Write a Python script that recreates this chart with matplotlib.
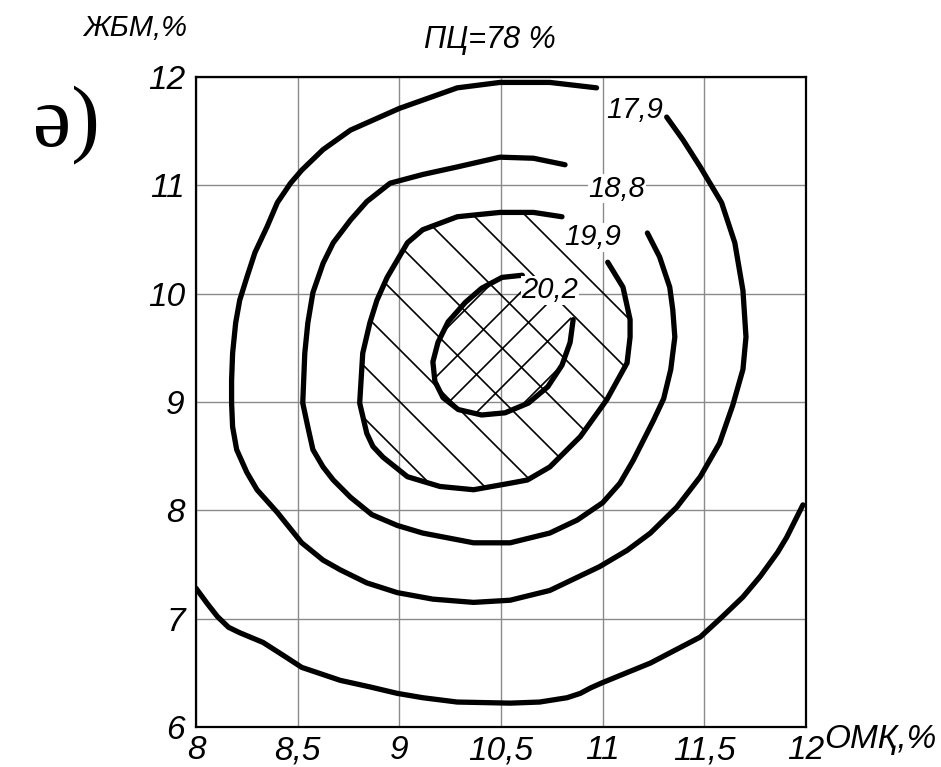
import numpy as np
import matplotlib
matplotlib.use("Agg")
import matplotlib.pyplot as plt
from matplotlib.patches import Polygon
from matplotlib.transforms import Affine2D

plt.rcParams['font.family'] = ['Liberation Sans', 'DejaVu Sans']

# x positions are grid steps (0..6), labelled with the OMK values below
x_labels = ['8', '8,5', '9', '10,5', '11', '11,5', '12']
y_ticks = [6, 7, 8, 9, 10, 11, 12]

# isolines, traced point by point
c179_x = [3.94, 3.48, 2.99, 2.57, 2.00, 1.52, 1.25, 1.04, 0.93, 0.80, 0.70, 0.58,
          0.50, 0.43, 0.39, 0.36, 0.35, 0.35, 0.36, 0.40, 0.50, 0.60, 0.80, 1.04,
          1.25, 1.42, 1.68, 1.98, 2.33, 2.73, 3.09, 3.48, 3.97, 4.24, 4.47, 4.73,
          4.96, 5.15, 5.28, 5.38, 5.41, 5.38, 5.30, 5.17, 4.96, 4.79, 4.63]
c179_y = [11.90, 11.95, 11.95, 11.90, 11.71, 11.51, 11.33, 11.14, 11.02, 10.84, 10.62, 10.38,
          10.15, 9.94, 9.73, 9.45, 9.20, 8.99, 8.77, 8.56, 8.35, 8.19, 7.98, 7.70,
          7.54, 7.45, 7.33, 7.24, 7.18, 7.15, 7.17, 7.26, 7.48, 7.63, 7.79, 8.03,
          8.31, 8.62, 8.97, 9.30, 9.60, 10.03, 10.47, 10.84, 11.17, 11.42, 11.63]

c188_x = [3.63, 3.32, 2.99, 2.57, 2.23, 1.91, 1.68, 1.52, 1.35, 1.25, 1.15, 1.10,
          1.07, 1.05, 1.10, 1.15, 1.25, 1.35, 1.52, 1.73, 1.98, 2.23, 2.73, 3.09,
          3.48, 3.75, 4.00, 4.17, 4.30, 4.50, 4.60, 4.67, 4.71, 4.69, 4.66, 4.56,
          4.44]
c188_y = [11.19, 11.25, 11.26, 11.17, 11.10, 11.02, 10.85, 10.68, 10.47, 10.28, 10.01, 9.73,
          9.45, 8.99, 8.77, 8.56, 8.40, 8.28, 8.12, 7.96, 7.86, 7.79, 7.70, 7.70,
          7.79, 7.91, 8.07, 8.25, 8.46, 8.83, 9.03, 9.30, 9.60, 9.85, 10.06, 10.34,
          10.56]

c199_x = [3.60, 3.32, 2.99, 2.57, 2.23, 2.08, 1.98, 1.88, 1.78, 1.71, 1.64, 1.61,
          1.68, 1.74, 1.84, 2.08, 2.40, 2.73, 3.09, 3.26, 3.48, 3.78, 4.04, 4.24,
          4.27, 4.27, 4.20, 4.05]
c199_y = [10.71, 10.75, 10.75, 10.71, 10.59, 10.47, 10.31, 10.15, 9.94, 9.73, 9.45, 8.99,
          8.71, 8.59, 8.49, 8.31, 8.22, 8.19, 8.25, 8.28, 8.40, 8.68, 9.02, 9.36,
          9.60, 9.76, 10.06, 10.29]

c202_x = [3.21, 3.01, 2.81, 2.65, 2.48, 2.38, 2.33, 2.35, 2.43, 2.58, 2.81, 3.04,
          3.27, 3.46, 3.60, 3.68, 3.71]
c202_y = [10.17, 10.15, 10.05, 9.92, 9.74, 9.55, 9.37, 9.19, 9.04, 8.93, 8.88, 8.90,
          8.99, 9.14, 9.34, 9.55, 9.76]

low_x = [0.00, 0.11, 0.21, 0.32, 0.43, 0.66, 0.86, 1.04, 1.42, 1.71, 1.98, 2.23,
         2.57, 3.09, 3.38, 3.65, 3.78, 3.88, 4.00, 4.47, 4.96, 5.18, 5.38, 5.55,
         5.72, 5.81, 5.97]
low_y = [7.28, 7.14, 7.02, 6.92, 6.87, 6.78, 6.66, 6.55, 6.43, 6.37, 6.31, 6.27,
         6.23, 6.22, 6.23, 6.27, 6.31, 6.36, 6.41, 6.59, 6.83, 7.02, 7.20, 7.39,
         7.61, 7.75, 8.05]

# contour values and where they are written
lab_text = ['17,9', '18,8', '19,9', '20,2']
lab_x = [4.32, 4.14, 3.90, 3.48]
lab_y = [11.70, 10.97, 10.52, 10.03]

fig = plt.figure(figsize=(9.41, 7.67), dpi=100)
ax = fig.add_axes([0.2083, 0.0522, 0.6482, 0.8474])

ax.set_xlim(0, 6)
ax.set_ylim(6, 12)
ax.set_xticks(range(len(x_labels)))
ax.set_xticklabels(x_labels)
ax.set_yticks(y_ticks)
ax.set_yticklabels([str(v) for v in y_ticks])
ax.tick_params(length=0, labelsize=24)
ax.tick_params(axis='x', pad=6)
ax.tick_params(axis='y', pad=8)
for lab in ax.get_xticklabels() + ax.get_yticklabels():
    lab.set_fontstyle('italic')
ax.grid(True, color='#8a8a8a', lw=1.0)
ax.set_axisbelow(True)
for sp in ax.spines.values():
    sp.set_linewidth(1.6)
    sp.set_color('black')

# hatching, 45 degrees on screen, drawn in axes pixel units
axw = ax.get_position().width * fig.get_figwidth() * fig.dpi
axh = ax.get_position().height * fig.get_figheight() * fig.dpi
pix = Affine2D().scale(1 / axw, 1 / axh) + ax.transAxes

clip199 = Polygon(np.column_stack([c199_x, c199_y]), closed=True, transform=ax.transData)
clip202 = Polygon(np.column_stack([c202_x, c202_y]), closed=True, transform=ax.transData)

for s in np.arange(477, 850, 52):
    ln, = ax.plot([-100, 800], [s + 100, s - 800], color='black', lw=1.2, transform=pix)
    ln.set_clip_path(clip199)
for t in np.arange(-4, 150, 38):
    ln, = ax.plot([-100, 800], [t - 100, t + 800], color='black', lw=1.2, transform=pix)
    ln.set_clip_path(clip202)

for xs, ys in [(c179_x, c179_y), (c188_x, c188_y), (c199_x, c199_y),
               (c202_x, c202_y), (low_x, low_y)]:
    ax.plot(xs, ys, color='black', lw=3.8, solid_capstyle='round',
            solid_joinstyle='round', zorder=3)

for txt, x, y in zip(lab_text, lab_x, lab_y):
    ax.text(x, y, txt, fontsize=21, style='italic', ha='center', va='center',
            zorder=4, bbox=dict(fc='white', ec='none', pad=0.3))

ax.set_xlim(0, 6)
ax.set_ylim(6, 12)

fig.text(0.1435, 0.963, 'ЖБМ,%', fontsize=21, style='italic', ha='center', va='center')
fig.text(0.5207, 0.948, 'ПЦ=78 %', fontsize=22, style='italic', ha='center', va='center')
fig.text(0.935, 0.036, 'ОМҚ,%', fontsize=24, style='italic', ha='center', va='center')
fig.text(0.071, 0.837, 'ә)', fontsize=62, ha='center', va='center',
         family=['Liberation Serif', 'DejaVu Serif'])

fig.savefig('out.png', dpi=100)
